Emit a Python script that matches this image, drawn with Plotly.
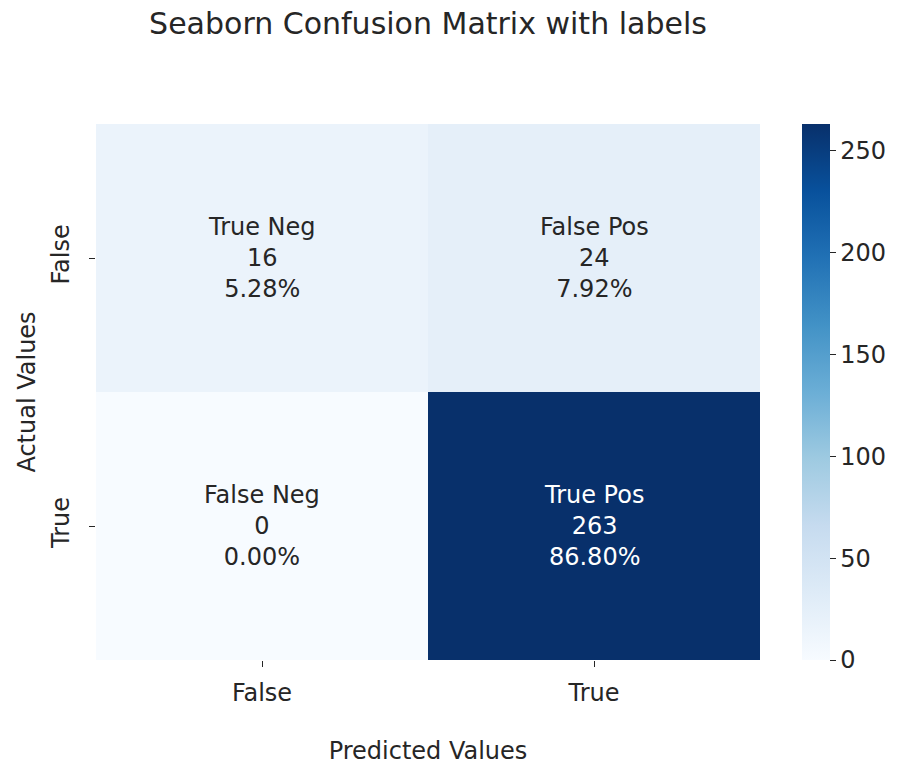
import plotly.graph_objects as go

# Data
x_labels = ["False", "True"]          # Predicted Values
y_labels = ["False", "True"]          # Actual Values
counts = [[16, 24], [0, 263]]
group_names = [["True Neg", "False Pos"], ["False Neg", "True Pos"]]
cbar_ticks = [0, 50, 100, 150, 200, 250]

total = sum(sum(r) for r in counts)
zmax = max(max(r) for r in counts)

FONT = "DejaVu Sans"
TXT = "#262626"
FS = 24

W, H = 899, 772
L, R, T, B = 96, 137, 124, 109

fig = go.Figure()
fig.add_trace(go.Heatmap(
    z=counts,
    x=[0, 1],
    y=[0, 1],
    colorscale="Blues",
    zmin=0,
    zmax=zmax,
    hoverinfo="skip",
    colorbar=dict(
        x=(804 - L) / (W - L - R), xanchor="left", xpad=0,
        y=0.5, yanchor="middle", len=1, lenmode="fraction", ypad=0,
        thickness=28, outlinewidth=0,
        ticks="outside", ticklen=6, tickwidth=1.2, tickcolor=TXT,
        tickvals=cbar_ticks,
        tickprefix="\u00a0\u2009",
        tickfont=dict(family=FONT, size=FS, color=TXT),
    ),
))

annotations = []
for i in range(2):
    for j in range(2):
        v = counts[i][j]
        pct = v / total * 100
        color = "white" if v > zmax / 2 else TXT
        annotations.append(dict(
            x=j, y=i, xref="x", yref="y",
            text=f"{group_names[i][j]}<br>{v}<br>{pct:.2f}%",
            showarrow=False,
            font=dict(family=FONT, size=FS, color=color),
        ))
fig.update_layout(annotations=annotations)

fig.update_layout(
    width=W, height=H,
    margin=dict(l=L, r=R, t=T, b=B),
    paper_bgcolor="white",
    plot_bgcolor="white",
    title=dict(
        text="Seaborn Confusion Matrix with labels",
        x=0.5, xref="paper", xanchor="center",
        y=1 - 23 / H, yref="container", yanchor="middle",
        font=dict(family=FONT, size=30, color=TXT),
    ),
    xaxis=dict(
        tickvals=[0, 1], ticktext=x_labels,
        range=[-0.5, 1.5],
        showgrid=False, zeroline=False, showline=False,
        ticks="outside", ticklen=6, tickwidth=1.2, tickcolor=TXT,
        ticklabelstandoff=5,
        tickfont=dict(family=FONT, size=FS, color=TXT),
        title=dict(text="Predicted Values", standoff=36,
                   font=dict(family=FONT, size=FS, color=TXT)),
    ),
    yaxis=dict(
        tickvals=[0, 1], ticktext=y_labels,
        range=[1.5, -0.5],
        showgrid=False, zeroline=False, showline=False,
        ticks="outside", ticklen=6, tickwidth=1.2, tickcolor=TXT,
        tickangle=-90,
        ticklabelstandoff=10,
        tickfont=dict(family=FONT, size=FS, color=TXT),
        title=dict(text="Actual Values", standoff=5,
                   font=dict(family=FONT, size=FS, color=TXT)),
    ),
)

fig.write_html(
    "out.html",
    config={"displayModeBar": False},
    post_script="document.body.style.margin='0';document.body.style.overflow='hidden';",
)
